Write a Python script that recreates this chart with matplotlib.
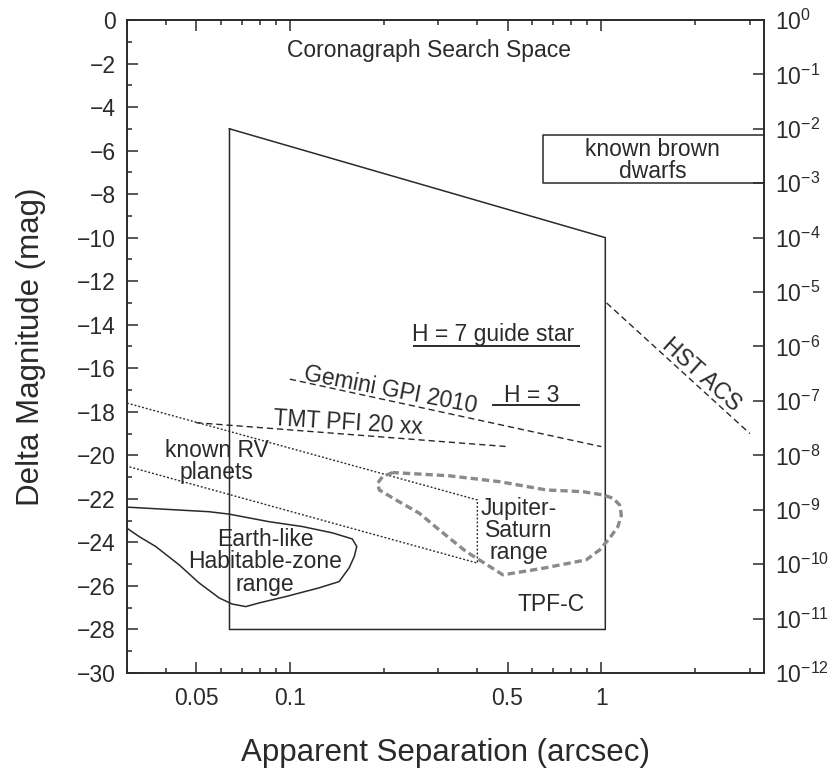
import numpy as np
import matplotlib
matplotlib.use("Agg")
import matplotlib.pyplot as plt
from matplotlib.ticker import FixedLocator, LogLocator, NullFormatter

plt.rcParams['font.family'] = ['Liberation Sans', 'DejaVu Sans']
plt.rcParams['mathtext.fontset'] = 'custom'
plt.rcParams['mathtext.rm'] = 'Liberation Sans'
plt.rcParams['mathtext.default'] = 'regular'

# axis ranges: separation in arcsec, contrast in magnitudes
sep_lim = [0.03, 3.33]
dmag_lim = [-30, 0]

# TPF-C coronagraph search box
tpfc_sep = [0.064, 1.03, 1.03, 0.064, 0.064]
tpfc_dmag = [-5.0, -10.0, -28.0, -28.0, -5.0]

# known brown dwarfs box (open towards the right edge)
bd_sep = [3.33, 0.65, 0.65, 3.33]
bd_dmag = [-5.3, -5.3, -7.5, -7.5]

# instrument contrast curves
gemini_sep = [0.1, 1.0]
gemini_dmag = [-16.5, -19.6]
tmt_sep = [0.05, 0.5]
tmt_dmag = [-18.5, -19.6]
hst_sep = [1.04, 3.0]
hst_dmag = [-13.0, -19.0]

# guide star limits
h7_sep = [0.25, 0.85]
h7_dmag = [-15.0, -15.0]
h3_sep = [0.45, 0.85]
h3_dmag = [-17.7, -17.7]

# known RV planets wedge
rv_sep = [0.03, 0.4, 0.4, 0.03]
rv_dmag = [-17.6, -22.05, -24.95, -20.5]

# Earth-like habitable zone outline
earth_sep = [0.03, 0.055, 0.0638, 0.0858, 0.1095, 0.1368, 0.1586, 0.164, 0.161,
             0.155, 0.144, 0.124, 0.097, 0.0797, 0.0722, 0.0652, 0.0593, 0.0511,
             0.0441, 0.0371, 0.0328, 0.03]
earth_dmag = [-22.38, -22.59, -22.70, -23.05, -23.27, -23.56, -23.84, -24.19, -24.65,
              -25.17, -25.80, -26.09, -26.49, -26.78, -26.95, -26.83, -26.55, -25.86,
              -25.03, -24.19, -23.73, -23.35]

# Jupiter-Saturn outline
jup_sep = [0.214, 0.1985, 0.1913, 0.1937, 0.2193, 0.2604, 0.302, 0.368, 0.483,
           0.649, 0.895, 0.987, 1.063, 1.131, 1.16, 1.145, 1.09, 1.012, 0.873,
           0.666, 0.471, 0.325, 0.214]
jup_dmag = [-20.79, -20.98, -21.28, -21.59, -22.05, -22.66, -23.43, -24.42, -25.49,
            -25.19, -24.80, -24.35, -23.81, -23.27, -22.74, -22.28, -21.97, -21.82,
            -21.67, -21.59, -21.21, -20.94, -20.79]

# tick values
sep_ticks = [0.05, 0.1, 0.5, 1]
sep_labels = ['0.05', '0.1', '0.5', '1']
dmag_ticks = list(range(-30, 1, 2))
flux_exp = list(range(0, -13, -1))

ink = '#2a2a2a'
fs = 16.5

fig = plt.figure(figsize=(8.29, 7.71), dpi=100)
ax = fig.add_axes([0.1532, 0.1271, 0.7684, 0.8470])
ax.set_xscale('log')
ax.set_xlim(sep_lim)
ax.set_ylim(dmag_lim)

ax.plot(tpfc_sep, tpfc_dmag, color=ink, lw=1.1)
ax.plot(bd_sep, bd_dmag, color=ink, lw=1.1, clip_on=False)
ax.plot(gemini_sep, gemini_dmag, color=ink, lw=1.0, dashes=(4.5, 2.8))
ax.plot(tmt_sep, tmt_dmag, color=ink, lw=1.0, dashes=(4.5, 2.8))
ax.plot(hst_sep, hst_dmag, color=ink, lw=1.0, dashes=(4.5, 2.8))
ax.plot(h7_sep, h7_dmag, color=ink, lw=1.4)
ax.plot(h3_sep, h3_dmag, color=ink, lw=1.4)
ax.plot(rv_sep, rv_dmag, color=ink, lw=1.0, dashes=(1.4, 1.4))
ax.plot(earth_sep, earth_dmag, color=ink, lw=1.1)
ax.plot(jup_sep, jup_dmag, color='#8a8a8a', lw=2.4, dashes=(2.2, 1.2))

txt = dict(color=ink, fontsize=fs, ha='center', va='center', linespacing=0.95)
ax.text(0.28, -1.4, 'Coronagraph Search Space', **txt)
ax.text(1.46, -6.45, 'known brown\ndwarfs', **txt)
ax.text(0.4505, -14.45, 'H = 7 guide star', **txt)
ax.text(0.599, -17.23, 'H = 3', **txt)
ax.text(0.21, -17.0, 'Gemini GPI 2010', rotation=-10.8, rotation_mode='anchor', **txt)
ax.text(0.1535, -18.5, 'TMT PFI 20 xx', rotation=-3.5, rotation_mode='anchor', **txt)
ax.text(2.10, -16.3, 'HST ACS', rotation=-42, rotation_mode='anchor', **txt)
ax.text(0.0583, -20.29, 'known RV\nplanets', **txt)
ax.text(0.0834, -24.9, 'Earth-like\nHabitable-zone\nrange', **txt)
ax.text(0.542, -23.47, 'Jupiter-\nSaturn\nrange', **txt)
ax.text(0.69, -26.87, 'TPF-C', **txt)

# x axis: log ticks on top and bottom, pointing in
ax.xaxis.set_major_locator(FixedLocator(sep_ticks))
ax.set_xticklabels(sep_labels)
ax.xaxis.set_minor_locator(LogLocator(base=10, subs=np.arange(1, 10)))
ax.xaxis.set_minor_formatter(NullFormatter())
ax.tick_params(axis='x', which='both', direction='in', top=True, bottom=True,
               labelsize=fs, colors=ink, pad=10)
ax.tick_params(axis='x', which='major', length=8, width=1.1)
ax.tick_params(axis='x', which='minor', length=3.7, width=1.1)

# left axis: delta magnitude
ax.set_yticks(dmag_ticks)
ax.set_yticks(range(-29, 0, 2), minor=True)
ax.tick_params(axis='y', which='both', direction='in', left=True, right=False,
               labelsize=fs, colors=ink, pad=8)
ax.tick_params(axis='y', which='major', length=8, width=1.1)
ax.tick_params(axis='y', which='minor', length=3.5, width=1.1)

for s in ax.spines.values():
    s.set_linewidth(1.2)
    s.set_color(ink)

ax.set_xlabel('Apparent Separation (arcsec)', fontsize=22.5, color=ink, labelpad=20)
ax.set_ylabel('Delta Magnitude (mag)', fontsize=22.5, color=ink, labelpad=22)

# right axis: flux ratio
ax2 = ax.twinx()
ax2.set_yscale('log')
ax2.set_ylim(10.0 ** (0.4 * dmag_lim[0]), 10.0 ** (0.4 * dmag_lim[1]))
ax2.yaxis.set_major_locator(FixedLocator([10.0 ** e for e in flux_exp]))
ax2.set_yticklabels([r'$10^{%d}$' % e for e in flux_exp])
ax2.yaxis.set_minor_locator(FixedLocator([]))
ax2.tick_params(axis='y', which='major', direction='in', length=7.7, width=1.1,
                labelsize=fs, colors=ink, pad=8)
for s in ax2.spines.values():
    s.set_linewidth(1.2)
    s.set_color(ink)

fig.savefig('out.png', dpi=100)
